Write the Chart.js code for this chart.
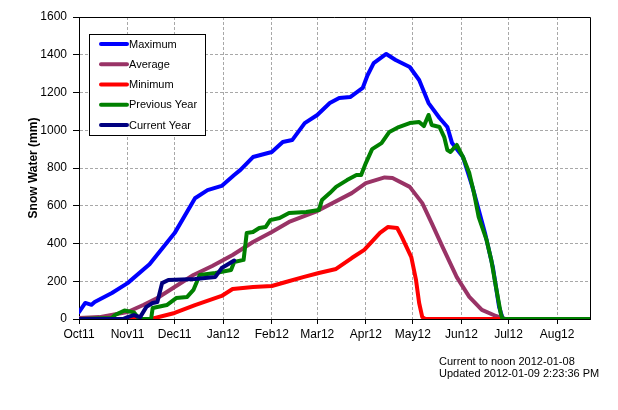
<!DOCTYPE html>
<html>
<head>
<meta charset="utf-8">
<script src="https://cdn.jsdelivr.net/npm/chart.js@4/dist/chart.umd.min.js"></script>
<style>
    html, body { margin: 0; padding: 0; background: #fff; }
    #wrap { width: 618px; height: 410px; }
</style>
</head>
<body>
<div id="wrap"><canvas id="snowChart" width="618" height="410"></canvas></div>
<script>
// day counted from 1 Oct 2011
const monthTicks = [0, 31, 61, 92, 123, 152, 183, 213, 244, 274, 305];
const monthLabels = ["Oct11", "Nov11", "Dec11", "Jan12", "Feb12", "Mar12",
    "Apr12", "May12", "Jun12", "Jul12", "Aug12"];
const lastDay = 326;

const maximumDays = [0, 4, 8, 10, 21, 31, 45, 61, 74, 82, 91, 99, 103, 111, 123, 130, 136, 144,
    152, 160, 166, 173, 181, 184, 188, 196, 202, 211, 217, 223, 230, 235, 238, 245, 251, 259,
    264, 268, 270, 271, 326];
const maximumSnow = [37, 85, 75, 90, 138, 190, 290, 455, 640, 683, 705, 763, 790, 858, 885, 938, 948, 1038,
    1081, 1144, 1171, 1176, 1224, 1290, 1356, 1404, 1372, 1335, 1266, 1144, 1065, 1017, 932, 858, 700, 456,
    276, 64, 10, 0, 0];

const averageDays = [0, 13, 31, 41, 50, 60, 73, 85, 98, 111, 123, 134, 152, 174, 183, 195, 200,
    211, 219, 225, 232, 241, 249, 257, 266, 270, 272, 326];
const averageSnow = [5, 10, 37, 74, 111, 164, 233, 281, 339, 408, 461, 514, 572, 667, 720, 750, 747,
    700, 614, 508, 381, 222, 117, 48, 16, 5, 0, 0];

const minimumDays = [0, 46, 61, 74, 91, 98, 111, 123, 132, 143, 153, 164, 174, 182, 192, 197, 203,
    206, 212, 215, 217, 219, 221, 326];
const minimumSnow = [0, 0, 32, 74, 122, 159, 170, 175, 196, 222, 244, 265, 323, 366, 456, 487, 482,
    434, 328, 207, 85, 10, 0, 0];

const previousDays = [0, 21, 23, 29, 35, 38, 40, 46, 47, 56, 62, 69, 73, 77, 87, 97, 99, 105, 107,
    111, 115, 119, 122, 128, 134, 145, 153, 155, 160, 164, 171, 177, 180, 183, 187, 193, 198,
    204, 211, 217, 220, 223, 225, 230, 233, 235, 237, 241, 245, 249, 252, 255, 260, 263, 266,
    269, 270, 271, 326];
const previousSnow = [0, 5, 21, 45, 35, 5, 0, 0, 58, 74, 111, 117, 154, 233, 244, 260, 302, 313, 456,
    461, 482, 487, 524, 535, 562, 567, 577, 630, 667, 700, 736, 763, 763, 826, 900, 932, 991,
    1017, 1038, 1044, 1022, 1081, 1028, 1017, 964, 895, 885, 922, 858, 773, 667, 540, 419, 313, 170,
    32, 5, 0, 0];

const currentDays = [0, 28, 31, 35, 39, 43, 47, 50, 53, 57, 74, 87, 91, 94, 99];
const currentSnow = [0, 0, 10, 21, 10, 64, 85, 90, 190, 207, 212, 223, 270, 285, 310];

const yTicks = [0, 200, 400, 600, 800, 1000, 1200, 1400, 1600];
const footerLines = ["Current to noon 2012-01-08", "Updated 2012-01-09 2:23:36 PM"];

function pts(days, vals) {
    return days.map((d, i) => ({ x: d, y: vals[i] }));
}

function line(label, days, vals, color, order) {
    return {
        label: label,
        data: pts(days, vals),
        borderColor: color,
        backgroundColor: color,
        borderWidth: 4,
        pointRadius: 0,
        tension: 0,
        borderJoinStyle: "round",
        borderCapStyle: "round",
        order: order
    };
}

// legend box inside the plot + frame + footer
const extras = {
    id: "extras",
    afterDraw(chart) {
        const ctx = chart.ctx;
        const a = chart.chartArea;
        ctx.save();

        // frame
        ctx.strokeStyle = "#000";
        ctx.lineWidth = 1;
        ctx.beginPath();
        ctx.moveTo(a.left, a.top + 0.5);
        ctx.lineTo(a.right + 0.5, a.top + 0.5);
        ctx.lineTo(a.right + 0.5, a.bottom);
        ctx.stroke();

        // legend
        const bx = 89, by = 34, bw = 116, bh = 101;
        ctx.fillStyle = "#fff";
        ctx.fillRect(bx, by, bw, bh);
        ctx.strokeRect(bx + 0.5, by + 0.5, bw, bh);
        ctx.font = "11px 'Liberation Sans', Arial, sans-serif";
        ctx.textBaseline = "middle";
        chart.data.datasets.forEach((ds, i) => {
            const y = 44 + i * 20.25;
            ctx.strokeStyle = ds.borderColor;
            ctx.lineWidth = 4;
            ctx.lineCap = "round";
            ctx.beginPath();
            ctx.moveTo(101, y);
            ctx.lineTo(127, y);
            ctx.stroke();
            ctx.fillStyle = "#000";
            ctx.fillText(ds.label, 129, y + 0.5);
        });

        // footer
        ctx.font = "11px 'Liberation Sans', Arial, sans-serif";
        ctx.textBaseline = "alphabetic";
        ctx.fillStyle = "#000";
        footerLines.forEach((t, i) => {
            ctx.fillText(t, 439, 365 + i * 12);
        });
        ctx.restore();
    }
};

const ctx = document.getElementById("snowChart").getContext("2d");

new Chart(ctx, {
    type: "line",
    data: {
        datasets: [
            line("Maximum", maximumDays, maximumSnow, "#0000FF", 4),
            line("Average", averageDays, averageSnow, "#993366", 3),
            line("Minimum", minimumDays, minimumSnow, "#FF0000", 2),
            line("Previous Year", previousDays, previousSnow, "#008000", 1),
            line("Current Year", currentDays, currentSnow, "#000080", 0)
        ]
    },
    options: {
        responsive: false,
        animation: false,
        devicePixelRatio: 1,
        layout: {
            padding: { left: 0, top: 17, right: 28, bottom: 0 }
        },
        plugins: {
            legend: { display: false },
            tooltip: { enabled: false }
        },
        scales: {
            x: {
                type: "linear",
                min: 0,
                max: lastDay,
                afterBuildTicks: (scale) => {
                    scale.ticks = monthTicks.map(v => ({ value: v }));
                },
                afterFit: (scale) => { scale.height = 91; },
                ticks: {
                    autoSkip: false,
                    maxRotation: 0,
                    padding: 3,
                    color: "#000",
                    font: { family: "'Liberation Sans', Arial", size: 12 },
                    callback: (v) => monthLabels[monthTicks.indexOf(v)]
                },
                grid: {
                    color: "#a8a8a8",
                    tickColor: "#000",
                    tickLength: 5,
                    tickBorderDash: [],
                    lineWidth: 1
                },
                border: { color: "#000", width: 1, dash: [3, 2] }
            },
            y: {
                min: 0,
                max: 1600,
                afterBuildTicks: (scale) => {
                    scale.ticks = yTicks.map(v => ({ value: v }));
                },
                afterFit: (scale) => { scale.width = 79; },
                ticks: {
                    padding: 6,
                    color: "#000",
                    font: { family: "'Liberation Sans', Arial", size: 12 },
                    callback: (v) => String(v)
                },
                grid: {
                    color: "#a8a8a8",
                    tickColor: "#000",
                    tickLength: 6,
                    tickBorderDash: [],
                    lineWidth: 1
                },
                border: { color: "#000", width: 1, dash: [3, 2] },
                title: {
                    display: true,
                    text: "Snow Water (mm)",
                    color: "#000",
                    font: { family: "'Liberation Sans', Arial", size: 12, weight: "bold" },
                    padding: { top: 26, bottom: 0 }
                }
            }
        }
    },
    plugins: [extras]
});
</script>
</body>
</html>
